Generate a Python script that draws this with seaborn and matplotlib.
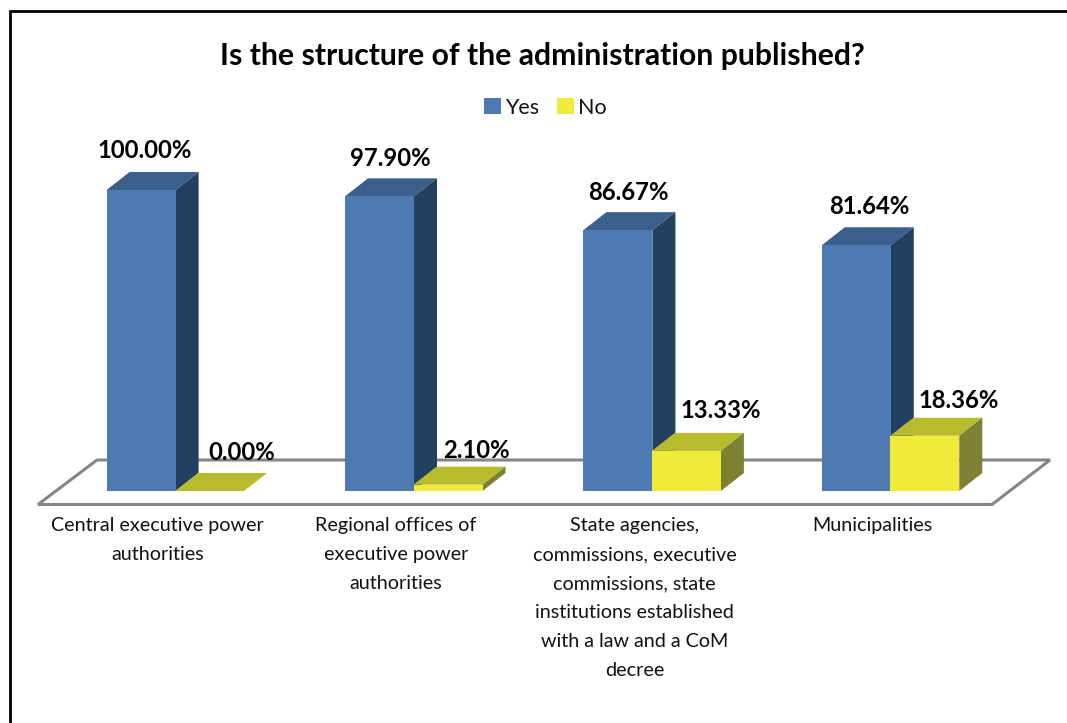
import matplotlib
matplotlib.use("Agg")
import matplotlib.pyplot as plt
import seaborn as sns
import pandas as pd
from matplotlib.lines import Line2D
from matplotlib.patches import Polygon
from matplotlib.transforms import IdentityTransform, ScaledTranslation

# ---- data ----
categories = [
    "Central executive power\nauthorities",
    "Regional offices of\nexecutive power\nauthorities",
    "State agencies,\ncommissions, executive\ncommissions, state\ninstitutions established\nwith a law and a CoM\ndecree",
    "Municipalities",
]
yes_values = [100.00, 97.90, 86.67, 81.64]
no_values = [0.00, 2.10, 13.33, 18.36]
series_names = ["Yes", "No"]
title_text = "Is the structure of the administration published?"

# ---- style ----
W, H = 1067, 723
BASE_PY, PX_PER_PCT, GROUP_PX, FIRST_PX, BAR_PX = 491.0, 3.01, 238.4, 175.6, 69.0
DEPTH = (23.0, 18.0)
FONT = "Lato"
colors = {"Yes": "#4D7AB3", "No": "#F0EA3A"}
tops = {"Yes": "#3A5F8A", "No": "#B9BB2F"}
sides = {"Yes": "#234060", "No": "#7E8032"}
label_nudge = {  # hand placement of the value labels, in pixels (dx, dy above bar top)
    "Yes": [(4, 39), (11, 38), (10, 38), (13, 39)],
    "No": [(32, 38), (28, 34), (34, 40), (34, 35)],
}

sns.set_theme(style="white")
plt.rcParams["font.family"] = [FONT, "DejaVu Sans"]

df = pd.DataFrame({
    "group": categories * 2,
    "answer": [series_names[0]] * 4 + [series_names[1]] * 4,
    "value": yes_values + no_values,
})

fig = plt.figure(figsize=(W / 100, H / 100), dpi=100)
ax = fig.add_axes([0, (H - BASE_PY) / H, 1, BASE_PY / H])
sns.barplot(data=df, x="group", y="value", hue="answer", hue_order=series_names,
            palette=colors, saturation=1, width=2 * BAR_PX / GROUP_PX, gap=0,
            dodge=True, linewidth=0, legend=False, ax=ax)
ax.set_xlim(-FIRST_PX / GROUP_PX, (W - FIRST_PX) / GROUP_PX)
ax.set_ylim(0, BASE_PY / PX_PER_PCT)
ax.set_xlabel("")
ax.set_ylabel("")
ax.set_yticks([])
for s in ax.spines.values():
    s.set_visible(False)
ax.patch.set_alpha(0)

# the yellow bars overlap the blue ones very slightly in the reference
for bar in ax.containers[1].patches:
    bar.set_x(bar.get_x() - 0.5 / GROUP_PX)

# category labels are real tick labels, shifted left of the group centre
ax.tick_params(axis="x", length=0, pad=19)
for lab in ax.get_xticklabels():
    lab.set_fontsize(14.2)
    lab.set_color("#111111")
    lab.set_linespacing(1.85)
    lab.set_verticalalignment("top")
    lab.set_transform(lab.get_transform() + ScaledTranslation(-18 / 100, 0, fig.dpi_scale_trans))

fig.canvas.draw()
identity = IdentityTransform()

# floor
floor_front_py, floor_back_py = 504.5, 460.0
floor = [(38, H - floor_front_py), (992, H - floor_front_py),
         (1050, H - floor_back_py), (97, H - floor_back_py)]
ax.add_patch(Polygon(floor, closed=True, fill=False, edgecolor="#858585", linewidth=2.2,
                     transform=identity, clip_on=False, zorder=1, joinstyle="miter"))

# pseudo 3-D faces and value labels, derived from each seaborn bar
dx, dy = DEPTH
for k, (name, cont) in enumerate(zip(series_names, ax.containers)):
    base_z = 3 + 2 * k
    for i, bar in enumerate(cont.patches):
        bar.set_zorder(base_z + 1)
        bb = bar.get_window_extent()
        x0, x1, y0, y1 = bb.x0, bb.x1, bb.y0, bb.y1
        ax.add_patch(Polygon([(x0, y1), (x1, y1), (x1 + dx, y1 + dy), (x0 + dx, y1 + dy)],
                             closed=True, facecolor=tops[name], edgecolor="none",
                             transform=identity, clip_on=False, zorder=base_z))
        if y1 > y0:
            ax.add_patch(Polygon([(x1, y0), (x1, y1), (x1 + dx, y1 + dy), (x1 + dx, y0 + dy)],
                                 closed=True, facecolor=sides[name], edgecolor="none",
                                 transform=identity, clip_on=False, zorder=base_z))
        val = (yes_values if k == 0 else no_values)[i]
        nx, ny = label_nudge[name][i]
        ax.annotate(f"{val:.2f}%", xy=((x0 + x1) / 2, y1), xycoords=identity,
                    xytext=(nx * 0.72, ny * 0.72), textcoords="offset points",
                    ha="center", va="center", fontsize=17.2, fontweight="bold",
                    color="black", zorder=10, annotation_clip=False)

# title and legend
fig.text(542.5 / W, 1 - 56 / H, title_text, ha="center", va="center",
         fontsize=21.7, fontweight="bold", color="black")
ax.legend(ax.containers, series_names, loc="center", ncol=2, frameon=False,
          bbox_to_anchor=(545.5 / W, 1 - 107.5 / H), bbox_transform=fig.transFigure,
          fontsize=15.5, handlelength=0.8, handleheight=0.8, handletextpad=0.2,
          columnspacing=0.8, borderpad=0, labelcolor="#111111")

# outer frame: left and top only
fig.add_artist(Line2D([9.7 / W, 9.7 / W, 1], [0, 1 - 11.3 / H, 1 - 11.3 / H],
                      transform=fig.transFigure, color="black", linewidth=2.0,
                      solid_joinstyle="miter"))

fig.savefig("out.png", dpi=100, facecolor="white")
